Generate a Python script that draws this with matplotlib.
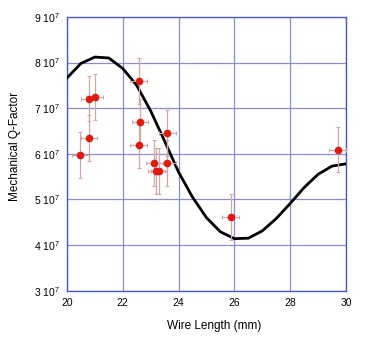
import matplotlib
matplotlib.use('Agg')
from matplotlib import pyplot as plt

plt.rcParams['font.family'] = ['Liberation Sans', 'DejaVu Sans']
plt.rcParams['mathtext.default'] = 'regular'

# model curve (Q in units of 1e7)
curve_x = [20, 20.5, 21, 21.5, 22, 22.5, 23, 23.5, 24, 24.5, 25,
           25.5, 26, 26.5, 27, 27.5, 28, 28.5, 29, 29.5, 30]
curve_q = [7.66, 7.98, 8.12, 8.10, 7.87, 7.50, 6.94, 6.28, 5.60, 5.05, 4.60,
           4.29, 4.14, 4.15, 4.31, 4.58, 4.91, 5.26, 5.55, 5.73, 5.78]

# measurements
wire_len = [20.48, 20.79, 20.79, 20.99, 22.57, 22.62, 22.57, 23.60,
            23.13, 23.60, 23.20, 23.30, 25.87, 29.70]
q_meas = [5.97, 6.35, 7.21, 7.25, 7.59, 6.69, 6.19, 6.46,
          5.80, 5.80, 5.62, 5.62, 4.62, 6.09]
len_err = [0.3] * len(wire_len)
q_err = [0.5] * len(wire_len)

fig = plt.figure(figsize=(3.74, 3.38), dpi=100)
ax = fig.add_axes([0.179, 0.140, 0.746, 0.810])

ax.plot(curve_x, curve_q, color='black', lw=2, zorder=3)
ax.errorbar(wire_len, q_meas, xerr=len_err, yerr=q_err, fmt='o',
            color='#e01a10', ms=4.5, ecolor='#d0a8a8', elinewidth=0.9,
            capsize=1.5, capthick=0.8, zorder=4)

ax.set_xlim(20, 30)
ax.set_ylim(3, 9)
ax.set_xticks([20, 22, 24, 26, 28, 30])
ax.set_yticks([3, 4, 5, 6, 7, 8, 9])
ax.set_yticklabels([f'{v} $10^{{7}}$' for v in range(3, 10)])
ax.tick_params(length=0, labelsize=7.5, pad=5)
ax.grid(True, color='#8c8cd4', lw=0.9)
for s in ax.spines.values():
    s.set_color('#4a5cc8')
    s.set_linewidth(1.0)

fig.text(214 / 374, 1 - 326 / 338, 'Wire Length (mm)', fontsize=8.5,
         ha='center', va='center')
fig.text(15 / 374, 1 - 146 / 338, 'Mechanical Q-Factor', fontsize=8.5,
         ha='center', va='center', rotation=90)

fig.savefig('out.png', dpi=100)
